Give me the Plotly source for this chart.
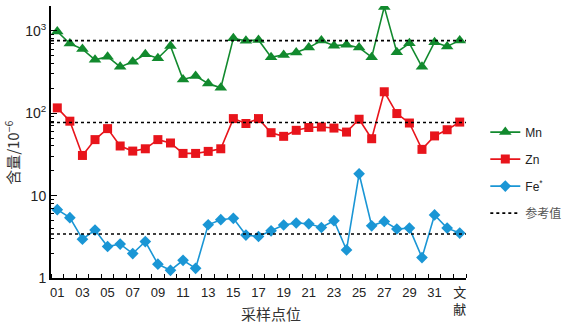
import plotly.graph_objects as go

sites = [f"{i:02d}" for i in range(1, 33)] + ["文献"]
mn = [980, 700, 600, 445, 485, 365, 420, 520, 465, 655, 257, 282, 230, 203,
      810, 755, 775, 478, 510, 545, 625, 760, 660, 675, 625, 478, 1950, 550,
      705, 365, 728, 645, 765]
zn = [116, 80, 30.7, 47.8, 65, 40, 34.7, 37, 47.8, 43.5, 32.5, 32.5, 34.4, 37,
      86, 75, 86, 58, 52.4, 62, 67, 68, 66, 59, 84.5, 49, 182, 99,
      76, 36.4, 53, 63, 78]
fe = [6.75, 5.4, 2.96, 3.82, 2.41, 2.58, 1.98, 2.77, 1.47, 1.24, 1.64, 1.31, 4.43, 5.1,
      5.3, 3.32, 3.19, 3.74, 4.4, 4.65, 4.55, 4.1, 4.96, 2.19, 18.4, 4.3, 4.86, 3.93,
      4.03, 1.77, 5.82, 4.03, 3.51]
ref_vals = [760, 77, 3.42]
series_names = ["Mn", "Zn", "Fe<sup>*</sup>"]
colors = ["#128A2E", "#E8141B", "#1A96D5"]
symbols = ["triangle-up", "square", "diamond"]
sizes = [11, 9, 9]

xpos = list(range(1, len(sites) + 1))
x_lo, x_hi = 0.5, len(sites) + 0.5

fig = go.Figure()
for i, (name, vals) in enumerate(zip(series_names, [mn, zn, fe])):
    fig.add_trace(go.Scatter(
        x=xpos, y=vals, mode="lines+markers", name=name,
        legendgroup=f"g{i}",
        line=dict(color=colors[i], width=1.6),
        marker=dict(symbol=symbols[i], size=sizes[i], color=colors[i]),
    ))

rx, ry = [], []
for v in ref_vals:
    rx += [x_lo, x_hi, None]
    ry += [v, v, None]
fig.add_trace(go.Scatter(x=rx, y=ry, mode="lines", name="<span style='color:#555'>参考值</span>",
                         legendgroup="g3",
                         line=dict(color="black", width=1.6, dash="dot")))

tick_x = [i for i in xpos if i % 2 == 1]
tick_text = [sites[i - 1] if sites[i - 1] != "文献" else "文<br>献" for i in tick_x]

minor_y = [m * 10 ** d for d in range(0, 4) for m in range(2, 10) if m * 10 ** d <= 2000]

fig.update_layout(
    width=563, height=324,
    margin=dict(l=51, r=97, t=6, b=46),
    paper_bgcolor="white", plot_bgcolor="white",
    font=dict(family="Liberation Sans, Arial", size=13, color="#222"),
    legend=dict(xref="container", yref="container", x=0.862, y=0.637,
                xanchor="left", yanchor="top",
                tracegroupgap=8, font=dict(size=12, family="Liberation Sans, Noto Sans CJK SC"),
                bgcolor="rgba(0,0,0,0)"),
    xaxis=dict(range=[x_lo, x_hi], tickvals=tick_x, ticktext=tick_text,
               ticks="", showgrid=False, zeroline=False, automargin=False,
               showline=True, linecolor="black", linewidth=2,
               ticklabelstandoff=1,
               tickfont=dict(size=13, family="Liberation Sans, Noto Sans CJK SC"),
               minor=dict(tickvals=[x + 0.5 for x in range(0, len(sites) + 1)],
                          ticks="inside", ticklen=4, tickcolor="black", showgrid=False)),
    yaxis=dict(type="log", range=[0, 3.301], automargin=False,
               tickvals=[1, 10, 100, 1000], ticktext=["1", "10", "10<sup>2</sup>", "10<sup>3</sup>"],
               ticks="inside", ticklen=6, tickcolor="black", showgrid=False, zeroline=False,
               showline=True, linecolor="black", linewidth=2,
               tickfont=dict(size=14),
               minor=dict(tickvals=minor_y, ticks="inside", ticklen=3, tickcolor="black",
                          showgrid=False)),
    showlegend=True,
)

fig.add_annotation(text="含量/10<sup>−6</sup>", xref="paper", yref="paper",
                   x=-0.094, y=0.46, xanchor="center", yanchor="middle",
                   textangle=-90, showarrow=False,
                   font=dict(size=15, family="Noto Sans CJK SC, Liberation Serif", color="#333"))
fig.add_annotation(text="采样点位", xref="paper", yref="paper",
                   x=0.53, y=-0.129, xanchor="center", yanchor="middle", showarrow=False,
                   font=dict(size=15, family="Noto Sans CJK SC", color="#333"))

fig.write_html("out.html", config={"displayModeBar": False},
               post_script="document.body.style.margin='0';")
